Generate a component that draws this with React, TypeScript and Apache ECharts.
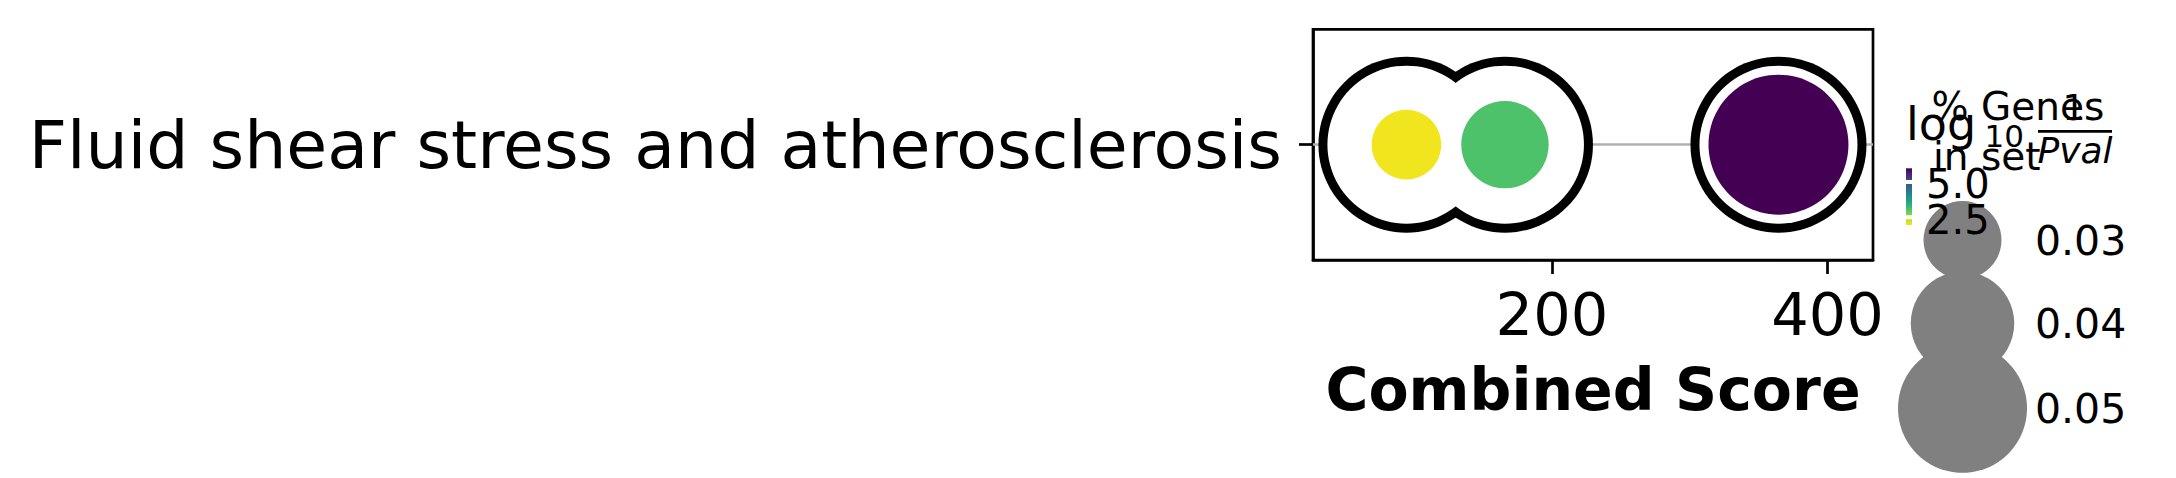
import React, { useEffect, useRef } from 'react';
import * as echarts from 'echarts';

// enrichment term (one row)
const terms = ['Fluid shear stress and atherosclerosis'];
// one entry per point
const combinedScore = [94.4, 165.9, 364.4];
const negLog10P = [1.95, 3.08, 5.97];
const geneFraction = [0.0267, 0.0337, 0.0543];
// ticks
const xTicks = [200, 400];
const cbTicks = [2.5, 5.0];
const sizeLegend = [0.03, 0.04, 0.05];

const FONT = '"DejaVu Sans", sans-serif';

const viridis = [
  '#440154', '#482475', '#414487', '#355f8d', '#2a788e', '#21918c',
  '#22a884', '#42be71', '#7ad151', '#bddf26', '#f1e51d',
];

// marker radius for a gene fraction
const radius = (v: number) => 39 + (v - 0.03) * 1275;

const txt = (x: number, y: number, text: string, font: string, align = 'left') => ({
  type: 'text',
  x,
  y,
  z: 10,
  style: {
    text,
    font,
    fill: '#000',
    align,
    textAlign: align,
    verticalAlign: 'middle',
    textVerticalAlign: 'middle',
  },
});

const App: React.FC = () => {
  const chartRef = useRef<HTMLDivElement>(null);

  useEffect(() => {
    if (!chartRef.current) return;
    const chart = echarts.init(chartRef.current, null, { renderer: 'svg' });

    const cbMin = Math.min(...negLog10P);
    const cbMax = Math.max(...negLog10P);
    // colorbar box
    const cbX = 1906, cbTop = 168.3, cbW = 6, cbH = 56.7;
    const cbY = (v: number) => cbTop + ((cbMax - v) / (cbMax - cbMin)) * cbH;

    const legendX = 1962.5;
    const legendY = [240, 323.3, 408.3];

    const option = {
      animation: false,
      backgroundColor: '#fff',
      grid: { left: 1313, top: 29.3, width: 560, height: 230.7, show: true, borderColor: '#000', borderWidth: 2.7 },
      xAxis: {
        type: 'value',
        min: 26.6,
        max: 433,
        axisLine: { show: true, lineStyle: { color: '#000', width: 2.7 } },
        axisTick: { show: true, customValues: xTicks, length: 14, lineStyle: { color: '#000', width: 2.7 } },
        axisLabel: { customValues: xTicks, fontSize: 59, fontFamily: FONT, color: '#000', margin: 25 },
        splitLine: { show: false },
        name: 'Combined Score',
        nameLocation: 'middle',
        nameGap: 100,
        nameTextStyle: { fontSize: 58.5, fontWeight: 'bold', fontFamily: FONT, color: '#000' },
      },
      yAxis: {
        type: 'category',
        data: terms,
        axisLine: { show: true, lineStyle: { color: '#000', width: 2.7 } },
        axisTick: { show: true, alignWithLabel: true, length: 14, lineStyle: { color: '#000', width: 2.7 } },
        axisLabel: { fontSize: 66.5, fontFamily: FONT, color: '#000', margin: 31, padding: [6, 0, 0, 0] },
        splitLine: { show: false },
      },
      visualMap: {
        type: 'continuous',
        show: false,
        seriesIndex: 3,
        dimension: 2,
        min: cbMin,
        max: cbMax,
        inRange: { color: [...viridis].reverse() },
      },
      series: [
        {
          type: 'line',
          data: combinedScore.map((s) => [s, terms[0]]),
          showSymbol: false,
          lineStyle: { width: 0, opacity: 0 },
          silent: true,
          z: 1,
          markLine: {
            z: 1,
            silent: true,
            symbol: ['none', 'none'],
            label: { show: false },
            lineStyle: { color: '#b0b0b0', width: 2.7, type: 'solid' },
            data: [{ yAxis: terms[0] }],
          },
        },
        {
          type: 'scatter',
          data: combinedScore.map((s) => [s, terms[0]]),
          symbolSize: 176,
          itemStyle: { color: '#000', opacity: 1 },
          silent: true,
          z: 2,
        },
        {
          type: 'scatter',
          data: combinedScore.map((s) => [s, terms[0]]),
          symbolSize: 158,
          itemStyle: { color: '#fff', opacity: 1 },
          silent: true,
          z: 3,
        },
        {
          type: 'scatter',
          data: combinedScore.map((s, i) => [s, terms[0], negLog10P[i], geneFraction[i]]),
          symbolSize: (d: number[]) => 2 * radius(d[3]),
          itemStyle: { opacity: 1 },
          z: 4,
        },
      ],
      graphic: [
        // size legend circles
        ...sizeLegend.map((v, i) => ({
          type: 'circle',
          z: 5,
          shape: { cx: legendX, cy: legendY[i], r: radius(v) },
          style: { fill: '#808080' },
        })),
        ...sizeLegend.map((v, i) => txt(2035, legendY[i] + 1, v.toFixed(2), `41px ${FONT}`)),
        // colorbar
        {
          type: 'rect',
          z: 5,
          shape: { x: cbX, y: cbTop, width: cbW, height: cbH },
          style: {
            fill: new echarts.graphic.LinearGradient(
              0, 0, 0, 1,
              viridis.map((c, i) => ({ offset: i / (viridis.length - 1), color: c })),
            ),
          },
        },
        ...cbTicks.map((v) => ({
          type: 'rect',
          z: 6,
          shape: { x: cbX - 1, y: cbY(v) - 2, width: cbW + 2, height: 4 },
          style: { fill: '#fff' },
        })),
        ...cbTicks.map((v) => txt(1926, cbY(v) + 2.5, v.toFixed(1), `40px ${FONT}`)),
        // colorbar title: log10 (1/Pval)
        txt(1906, 124.4, 'log', `46px ${FONT}`),
        txt(1984.6, 136, '10', `31px ${FONT}`),
        txt(2074, 107.6, '1', `36px ${FONT}`, 'center'),
        {
          type: 'line',
          z: 10,
          shape: { x1: 2038, y1: 131.3, x2: 2112, y2: 131.3 },
          style: { stroke: '#000', lineWidth: 2.7 },
        },
        txt(2075, 150.9, 'Pval', `italic 36px ${FONT}`, 'center'),
        // size legend title
        txt(1931.5, 106.5, '% Genes', `39px ${FONT}`),
        txt(1933, 156.5, 'in set', `39px ${FONT}`),
      ],
    };

    chart.setOption(option as any);
    return () => chart.dispose();
  }, []);

  return (
    <div
      ref={chartRef}
      style={{ position: 'absolute', left: 0, top: 0, width: '2176px', height: '478px' }}
    />
  );
};

export default App;
